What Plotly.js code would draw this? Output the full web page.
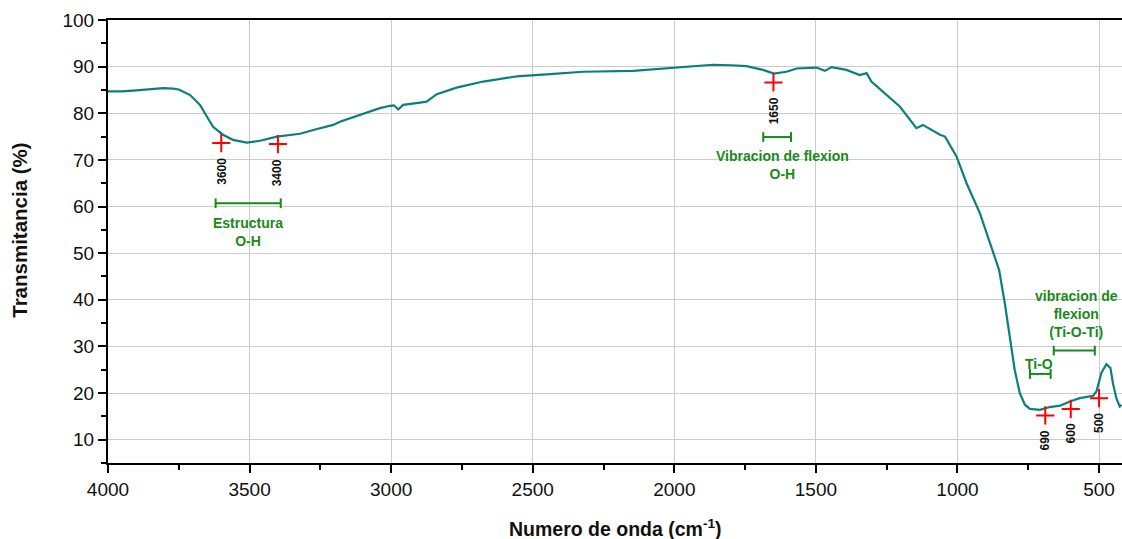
<!DOCTYPE html>
<html>
<head>
<meta charset="utf-8">
<script src="https://cdn.plot.ly/plotly-3.0.1.min.js"></script>
<style>
  html, body { margin: 0; padding: 0; background: #fff; }
  #chart { width: 1122px; height: 539px; }
</style>
</head>
<body>
<div id="chart"></div>
<script>
// FTIR spectrum: wavenumber (cm-1) vs transmittance (%)
const wavenumber = [
  4000, 3950, 3900, 3850, 3805, 3770, 3750, 3710, 3675, 3651, 3629, 3594, 3559,
  3510, 3463, 3404, 3322, 3275, 3205, 3181, 3087, 3040, 3004, 2990, 2975, 2958,
  2898, 2875, 2839, 2769, 2675, 2557, 2439, 2322, 2146, 2027, 1910, 1864, 1800,
  1745, 1687, 1648, 1604, 1568, 1498, 1468, 1445, 1392, 1345, 1321, 1304, 1251,
  1203, 1145, 1122, 1062, 1044, 1003, 968, 921, 876, 853, 833, 815, 798, 780,
  762, 744, 709, 674, 638, 603, 568, 521, 509, 492, 474, 460, 451, 439, 427, 421
];
const transmittance = [
  84.7, 84.7, 84.9, 85.1, 85.4, 85.3, 85.1, 83.9, 81.8, 79.3, 77.1, 75.4, 74.3,
  73.7, 74.1, 75.0, 75.6, 76.4, 77.5, 78.2, 80.1, 81.1, 81.6, 81.7, 80.8, 81.8,
  82.3, 82.5, 84.1, 85.5, 86.8, 87.9, 88.4, 88.9, 89.1, 89.6, 90.2, 90.4, 90.3,
  90.1, 89.3, 88.5, 88.9, 89.6, 89.8, 89.1, 89.9, 89.3, 88.2, 88.6, 86.8, 83.9,
  81.4, 76.8, 77.5, 75.4, 75.0, 70.7, 65.0, 58.6, 50.7, 46.4, 39.3, 32.1, 25.0, 20.0,
  17.5, 16.6, 16.4, 17.0, 17.3, 18.2, 18.9, 19.4, 20.4, 24.3, 26.2, 25.4, 22.1, 18.9, 17.1, 17.5
];

// Marked peaks
const peakWavenumber = [3600, 3400, 1650, 690, 600, 500];
const peakTransmittance = [73.6, 73.4, 86.6, 15.2, 16.6, 18.9];
const peakLabels = ["3600", "3400", "1650", "690", "600", "500"];

// Band assignments: range (start, end), level and text
const bandStart = [3620, 1686, 744, 660];
const bandEnd = [3390, 1588, 671, 515];
const bandLevel = [60.7, 74.9, 24.1, 29.1];
const bandText = [
  "Estructura<br>O-H",
  "Vibracion de flexion<br>O-H",
  "Ti-O",
  "vibracion de<br>flexion<br>(Ti-O-Ti)"
];
const bandTextX = [3507, 1618, 713, 579];
const bandTextY = [54.5, 68.8, 26.3, 37.0];

const FONT = "Liberation Sans, Arial, Helvetica, sans-serif";
const TEAL = "#0b7f80";
const GREEN = "#178a17";

const traces = [{
  x: wavenumber, y: transmittance, type: "scatter", mode: "lines",
  line: { color: TEAL, width: 2.2 }, hoverinfo: "x+y"
}, {
  x: peakWavenumber, y: peakTransmittance, type: "scatter", mode: "markers",
  marker: { symbol: "cross-thin", size: 13, line: { color: "#ff0000", width: 2 } }
}];

bandStart.forEach((s, i) => {
  traces.push({
    x: [s, bandEnd[i]], y: [bandLevel[i], bandLevel[i]],
    type: "scatter", mode: "lines+markers",
    line: { color: GREEN, width: 2 },
    marker: { symbol: "line-ns", size: 7, line: { color: GREEN, width: 2 } }
  });
});

const annotations = [];
peakLabels.forEach((t, i) => {
  annotations.push({
    x: peakWavenumber[i], y: peakTransmittance[i], xref: "x", yref: "y",
    text: "<b>" + t + "</b>", showarrow: false, textangle: -90,
    yshift: -(14 + 3.6 * t.length),
    font: { family: FONT, size: 12, color: "#111" }
  });
});
bandText.forEach((t, i) => {
  annotations.push({
    x: bandTextX[i], y: bandTextY[i], xref: "x", yref: "y",
    text: "<b>" + t + "</b>", showarrow: false, align: "center",
    font: { family: FONT, size: 14, color: GREEN }
  });
});
// Axis titles
annotations.push({
  x: 0.5, y: -0.147, xref: "paper", yref: "paper", showarrow: false,
  xanchor: "center", yanchor: "middle",
  text: "<b>Numero de onda (cm<sup>-1</sup>)</b>",
  font: { family: FONT, size: 19.5, color: "#111" }
});
annotations.push({
  x: -0.087, y: 0.526, xref: "paper", yref: "paper", showarrow: false,
  xanchor: "center", yanchor: "middle", textangle: -90,
  text: "<b>Transmitancia (%)</b>",
  font: { family: FONT, size: 20.5, color: "#111" }
});

const layout = {
  width: 1122, height: 539,
  margin: { l: 108, r: 0, t: 20, b: 76 },
  paper_bgcolor: "#fff", plot_bgcolor: "#fff",
  showlegend: false,
  font: { family: FONT, color: "#111" },
  xaxis: {
    range: [4000, 419], tickmode: "array",
    tickvals: [4000, 3500, 3000, 2500, 2000, 1500, 1000, 500],
    showgrid: true, gridcolor: "#cccccc", gridwidth: 1,
    showline: true, linecolor: "#000", linewidth: 2, mirror: true,
    ticks: "outside", ticklen: 8, tickwidth: 2, tickcolor: "#000",
    minor: { tickmode: "linear", tick0: 0, dtick: 250, ticks: "outside", ticklen: 5, tickwidth: 2, tickcolor: "#000", showgrid: false },
    tickfont: { family: FONT, size: 19, color: "#111" },
    zeroline: false
  },
  yaxis: {
    range: [5, 100], tick0: 0, dtick: 10,
    showgrid: true, gridcolor: "#cccccc", gridwidth: 1,
    showline: true, linecolor: "#000", linewidth: 2,
    ticks: "outside", ticklen: 8, tickwidth: 2, tickcolor: "#000",
    minor: { tick0: 0, dtick: 5, ticks: "outside", ticklen: 5, tickwidth: 2, tickcolor: "#000", showgrid: false },
    tickfont: { family: FONT, size: 19, color: "#111" },
    zeroline: false
  },
  annotations: annotations
};

Plotly.newPlot("chart", traces, layout, { displayModeBar: false, staticPlot: true });
</script>
</body>
</html>
